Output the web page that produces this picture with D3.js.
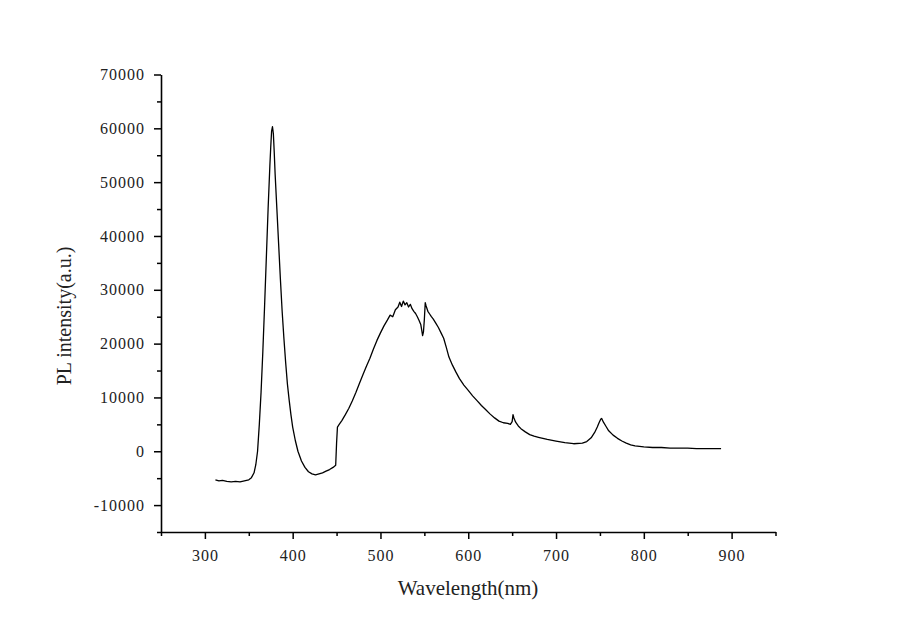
<!DOCTYPE html>
<html>
<head>
<meta charset="utf-8">
<script src="https://cdn.jsdelivr.net/npm/d3@7"></script>
<style>
  body { margin: 0; background: #fff; }
  svg text { font-family: "Liberation Serif", "Times New Roman", serif; fill: #222; }
</style>
</head>
<body>
<svg id="chart" width="900" height="638"></svg>
<script>
// wavelength (nm) and PL intensity
var wavelength = [312,316,320,325,330,335,340,345,350,353,356,358,360,362,364,366,368,370,372,374,375,376,377,378,379,380,382,384,386,388,390,392,394,396,398,400,403,406,410,414,418,422,426,430,434,438,442,446,449,450,451,453,456,460,464,468,472,476,480,484,488,492,496,500,504,508,511,514,517,520,522,524,526,528,530,532,534,536,538,540,542,544,546,547,548,549,550,551,552,554,556,558,560,563,566,569,572,575,578,582,586,590,595,600,605,610,615,620,625,630,635,640,645,648,650,651,652,654,657,660,665,670,675,680,690,700,710,720,730,735,740,744,747,749,751,752,754,757,760,765,770,775,780,785,790,795,800,810,820,830,840,850,860,870,880,888];
var intensity = [-5300,-5500,-5400,-5600,-5700,-5600,-5700,-5500,-5300,-4900,-4000,-2500,0,5000,11000,18500,27000,36000,45000,53000,56500,59500,60300,59000,55500,51500,45000,38500,32000,26000,21000,16500,12500,9500,6800,4500,2000,0,-1800,-3000,-3800,-4200,-4400,-4200,-4000,-3700,-3400,-3000,-2600,1500,4500,5000,5700,6800,8000,9400,10900,12600,14200,15800,17300,19000,20600,22000,23300,24400,25300,25000,26300,26800,27700,26900,27900,27200,27600,26800,27300,26500,26000,25600,25000,24300,23500,22500,21500,22200,24500,27600,27000,26000,25500,25000,24600,23800,23000,22000,21000,19300,17500,16000,14700,13500,12300,11300,10300,9400,8500,7700,6900,6200,5600,5300,5200,5000,5500,6800,6200,5400,4700,4200,3600,3100,2800,2600,2200,1900,1600,1400,1500,1800,2500,3500,4500,5300,6000,6100,5400,4600,3800,3000,2400,1900,1500,1200,1000,900,800,700,700,600,600,600,500,500,500,500];

var xMajor = [300,400,500,600,700,800,900];
var xMinor = [250,350,450,550,650,750,850,950];
var yMajor = [-10000,0,10000,20000,30000,40000,50000,60000,70000];
var yMinor = [-15000,-5000,5000,15000,25000,35000,45000,55000,65000];

var svg = d3.select("#chart");

var x = d3.scaleLinear().domain([250, 950]).range([161, 775.5]);
var y = d3.scaleLinear().domain([-15000, 70000]).range([532, 74.5]);

// etiquetas con guion normal como en el original
function fmt(d) { return String(d); }

// ejes menores primero (sin texto)
svg.append("g")
  .attr("transform", "translate(0,532)")
  .call(d3.axisBottom(x).tickValues(xMinor).tickSize(4).tickFormat(""))
  .call(g => g.select(".domain").remove());
svg.append("g")
  .attr("transform", "translate(161,0)")
  .call(d3.axisLeft(y).tickValues(yMinor).tickSize(4).tickFormat(""))
  .call(g => g.select(".domain").remove());

// ejes principales
var gx = svg.append("g")
  .attr("transform", "translate(0,532)")
  .call(d3.axisBottom(x).tickValues(xMajor).tickSize(7).tickPadding(11).tickSizeOuter(0).tickFormat(fmt));
var gy = svg.append("g")
  .attr("transform", "translate(161,0)")
  .call(d3.axisLeft(y).tickValues(yMajor).tickSize(7).tickPadding(9).tickSizeOuter(0).tickFormat(fmt));

svg.selectAll(".tick line").attr("stroke", "#000").attr("stroke-width", 1.5);
svg.selectAll(".domain").attr("stroke", "#000").attr("stroke-width", 1.6);
svg.selectAll(".tick text")
  .style("font-size", "16px")
  .style("font-family", "Liberation Serif, serif")
  .style("letter-spacing", "1px")
  .attr("fill", "#222");

// curva
var line = d3.line()
  .x(function(d, i){ return x(wavelength[i]); })
  .y(function(d){ return y(d); });

svg.append("path")
  .datum(intensity)
  .attr("fill", "none")
  .attr("stroke", "#000")
  .attr("stroke-width", 1.3)
  .attr("stroke-linejoin", "round")
  .attr("d", line);

// titulos
svg.append("text")
  .attr("x", 468)
  .attr("y", 595)
  .attr("text-anchor", "middle")
  .style("font-size", "21px")
  .text("Wavelength(nm)");

svg.append("text")
  .attr("transform", "translate(71,316) rotate(-90)")
  .attr("text-anchor", "middle")
  .style("font-size", "20px")
  .text("PL intensity(a.u.)");
</script>
</body>
</html>
